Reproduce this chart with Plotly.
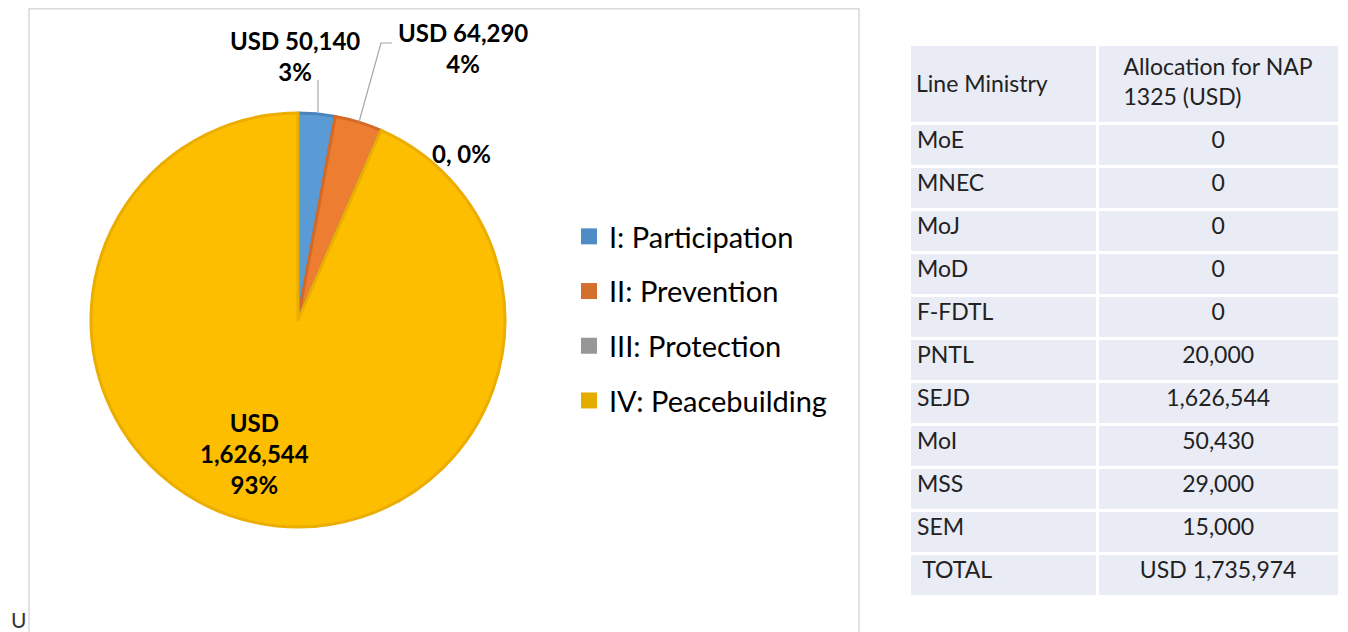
import plotly.graph_objects as go

# ---- data ----
categories = ["I: Participation", "II: Prevention", "III: Protection", "IV: Peacebuilding"]
values = [50140, 64290, 0, 1626544]
slice_colors = ["#5b9bd5", "#ed7d31", "#a5a5a5", "#fdbe00"]
slice_edges = ["#4a84bd", "#d46a25", "#8f8f8f", "#eaad00"]
legend_colors = ["#4f8bc4", "#d4702e", "#979797", "#e5ac00"]

ministries = ["MoE", "MNEC", "MoJ", "MoD", "F-FDTL", "PNTL", "SEJD", "MoI", "MSS", "SEM"]
allocations = [0, 0, 0, 0, 0, 20000, 1626544, 50430, 29000, 15000]
total_label = "USD 1,735,974"
table_header = ["Line Ministry", "Allocation for NAP<br>1325 (USD)"]

# page body has an 8px margin; figure occupies screen 8..1348 x 8..632
OFF = 8
W, H = 1348 - OFF, 632 - OFF
FONT = "Lato"

def px(x):
    return (x - OFF) / W

def py(y):
    return 1 - (y - OFF) / H

total = sum(values)
label_texts = []
for v in values:
    pct = round(100 * v / total)
    if v == 0:
        label_texts.append(f"{v}, {pct}%")
    elif pct > 50:
        label_texts.append(f"USD<br>{v:,}<br>{pct}%")
    else:
        label_texts.append(f"USD {v:,}<br>{pct}%")

# label anchor positions (screen pixels) - layout only
label_pos = [(295, 56), (463, 48), (461, 153), (255, 453)]

fig = go.Figure()

cx, cy, r = 298, 320, 207
fig.add_trace(go.Pie(
    labels=categories, values=values, sort=False, direction="clockwise", rotation=0,
    marker=dict(colors=slice_colors, line=dict(color=slice_edges, width=3)),
    textinfo="none", hoverinfo="label+value+percent", showlegend=False,
    domain=dict(x=[px(cx - r), px(cx + r)], y=[py(cy + r), py(cy - r)]),
))

# legend entries
for i, (c, col) in enumerate(zip(categories, legend_colors)):
    fig.add_trace(go.Scatter(
        x=[None], y=[None], mode="markers", name=c, legendgroup=f"g{i}",
        marker=dict(symbol="square", size=18, color=col),
    ))

# table
cell_col1 = ministries + [" TOTAL"]
cell_col2 = [f"{a:,}" for a in allocations] + [total_label]
fig.add_trace(go.Table(
    domain=dict(x=[px(909), px(1339)], y=[py(598), py(44)]),
    columnwidth=[187, 240],
    header=dict(values=["", table_header[1]], fill_color="#e9ebf5", line=dict(color="white", width=3),
                align=["left", "center"], height=79,
                font=dict(family=FONT, size=23, color="#222222")),
    cells=dict(values=[cell_col1, cell_col2], fill_color="#e9ebf5",
               line=dict(color="white", width=3),
               align=["left", "center"], height=43,
               font=dict(family=FONT, size=23, color="#222222")),
))

annotations = []
for (x, y), t in zip(label_pos, label_texts):
    annotations.append(dict(x=px(x), y=py(y), xref="paper", yref="paper", text=f"<b>{t}</b>",
                            showarrow=False, xanchor="center", yanchor="middle",
                            font=dict(family=FONT, size=24, color="#000000")))
# header cell of first column (vertically centred like the reference)
annotations.append(dict(x=px(914), y=py(83), xref="paper", yref="paper", text=table_header[0],
                        showarrow=False, xanchor="left", yanchor="middle",
                        font=dict(family=FONT, size=23, color="#222222")))
annotations.append(dict(x=px(9), y=py(634), xref="paper", yref="paper", text="U", showarrow=False,
                        xanchor="left", yanchor="bottom", font=dict(family=FONT, size=21, color="#333333")))

shapes = [
    dict(type="rect", xref="paper", yref="paper", x0=px(29), x1=px(859), y0=py(660), y1=py(8.8),
         line=dict(color="#d9d9d9", width=1.5), fillcolor="rgba(0,0,0,0)", layer="below"),
    dict(type="line", xref="paper", yref="paper", x0=px(318), x1=px(318), y0=py(112), y1=py(80),
         line=dict(color="#a6a6a6", width=1.2)),
    dict(type="path", xref="paper", yref="paper",
         path=f"M {px(359)} {py(122)} L {px(381)} {py(43)} L {px(392)} {py(43)}",
         line=dict(color="#a6a6a6", width=1.2)),
]

fig.update_layout(
    width=W, height=H, margin=dict(l=0, r=0, t=0, b=0),
    paper_bgcolor="white", plot_bgcolor="white",
    xaxis=dict(visible=False), yaxis=dict(visible=False),
    showlegend=True,
    legend=dict(x=px(569), y=py(211), xanchor="left", yanchor="top", tracegroupgap=14,
                font=dict(family=FONT, size=29, color="#000000"), bgcolor="rgba(0,0,0,0)",
                itemclick=False, itemdoubleclick=False),
    annotations=annotations, shapes=shapes,
)

fig.write_html("out.html")
